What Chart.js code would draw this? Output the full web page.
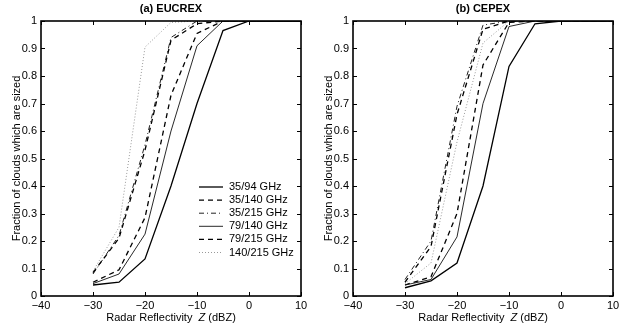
<html>
    <head>
        <meta charset="UTF-8">
        <script src="https://cdn.jsdelivr.net/npm/chart.js"></script>
        <title>Fraction of clouds sized</title>
        <style>
            body { margin: 0; background: #fff; }
            .panel { position: absolute; top: 0; }
        </style>
    </head>
    <body>
        <div class="panel" style="left: 0px"><canvas id="eucrex" width="311" height="329"></canvas></div>
        <div class="panel" style="left: 312px"><canvas id="cepex" width="311" height="329"></canvas></div>

        <script>
            // radar reflectivity Z (dBZ)
            const zValues = [-30, -25, -20, -15, -10, -5, 0, 5, 10];
            const xTicks = [-40, -30, -20, -10, 0, 10];
            const seriesNames = ['35/94 GHz', '35/140 GHz', '35/215 GHz', '79/140 GHz', '79/215 GHz', '140/215 GHz'];

            // (a) EUCREX
            const eucrex_35_94   = [0.04, 0.05, 0.135, 0.40, 0.70, 0.965, 1, 1, 1];
            const eucrex_35_140  = [0.085, 0.21, 0.53, 0.93, 0.99, 1, 1, 1, 1];
            const eucrex_35_215  = [0.08, 0.22, 0.55, 0.94, 1, 1, 1, 1, 1];
            const eucrex_79_140  = [0.045, 0.08, 0.225, 0.60, 0.91, 1, 1, 1, 1];
            const eucrex_79_215  = [0.05, 0.095, 0.285, 0.73, 0.955, 1, 1, 1, 1];
            const eucrex_140_215 = [0.09, 0.25, 0.905, 0.995, 1, 1, 1, 1, 1];

            // (b) CEPEX
            const cepex_35_94   = [0.03, 0.055, 0.12, 0.40, 0.835, 0.99, 1, 1, 1];
            const cepex_35_140  = [0.05, 0.18, 0.66, 0.97, 1, 1, 1, 1, 1];
            const cepex_35_215  = [0.06, 0.20, 0.69, 0.985, 1, 1, 1, 1, 1];
            const cepex_79_140  = [0.04, 0.06, 0.215, 0.70, 0.98, 1, 1, 1, 1];
            const cepex_79_215  = [0.04, 0.07, 0.30, 0.84, 0.995, 1, 1, 1, 1];
            const cepex_140_215 = [0.045, 0.12, 0.56, 0.92, 1, 1, 1, 1, 1];

            const FONT = "'Liberation Sans', Arial, Helvetica, sans-serif";

            // line styles, same order as seriesNames
            const styles = [
                { color: '#000', width: 1.3, dash: [] },
                { color: '#000', width: 1.3, dash: [5, 4] },
                { color: '#222', width: 1.0, dash: [5, 3, 1, 3] },
                { color: '#111', width: 0.9, dash: [] },
                { color: '#000', width: 1.3, dash: [5, 4] },
                { color: '#999', width: 1.0, dash: [1, 2] }
            ];

            function makeDatasets(series) {
                return series.map((vals, i) => ({
                    label: seriesNames[i],
                    data: zValues.map((z, j) => ({ x: z, y: vals[j] })),
                    borderColor: styles[i].color,
                    borderWidth: styles[i].width,
                    borderDash: styles[i].dash,
                    pointRadius: 0,
                    fill: false,
                    tension: 0
                }));
            }

            function line(ctx, x1, y1, x2, y2) {
                ctx.beginPath();
                ctx.moveTo(x1, y1);
                ctx.lineTo(x2, y2);
                ctx.stroke();
            }

            // MATLAB style box, inward ticks, titles and legend
            const framePlugin = {
                id: 'frame',
                afterDraw(chart, args, opts) {
                    const { ctx, chartArea: a, scales: { x, y } } = chart;
                    ctx.save();
                    ctx.strokeStyle = '#000';
                    ctx.setLineDash([]);
                    ctx.lineWidth = 1;
                    x.ticks.forEach(t => {
                        const px = Math.round(x.getPixelForValue(t.value)) + 0.5;
                        line(ctx, px, a.bottom, px, a.bottom - 4);
                        line(ctx, px, a.top, px, a.top + 4);
                    });
                    y.ticks.forEach(t => {
                        const py = Math.round(y.getPixelForValue(t.value)) + 0.5;
                        line(ctx, a.left, py, a.left + 4, py);
                        line(ctx, a.right, py, a.right - 4, py);
                    });
                    ctx.lineWidth = 1.6;
                    ctx.strokeRect(a.left, a.top, a.right - a.left, a.bottom - a.top);

                    const cx = (a.left + a.right) / 2;
                    ctx.fillStyle = '#000';
                    ctx.textBaseline = 'middle';
                    ctx.textAlign = 'center';
                    ctx.font = 'bold 11px ' + FONT;
                    ctx.fillText(opts.title, cx, 9);

                    // x axis title with italic Z
                    const p1 = 'Radar Reflectivity  ', p2 = 'Z', p3 = ' (dBZ)';
                    ctx.font = '11px ' + FONT;
                    const w1 = ctx.measureText(p1).width, w3 = ctx.measureText(p3).width;
                    ctx.font = 'italic 11px ' + FONT;
                    const w2 = ctx.measureText(p2).width;
                    let tx = cx - (w1 + w2 + w3) / 2;
                    ctx.textAlign = 'left';
                    ctx.font = '11px ' + FONT;
                    ctx.fillText(p1, tx, 318);
                    ctx.font = 'italic 11px ' + FONT;
                    ctx.fillText(p2, tx + w1, 318);
                    ctx.font = '11px ' + FONT;
                    ctx.fillText(p3, tx + w1 + w2, 318);

                    if (opts.legend) {
                        const lx = a.left + 158, ly = 187, rowH = 13.1;
                        chart.data.datasets.forEach((ds, i) => {
                            const yy = ly + i * rowH;
                            ctx.strokeStyle = ds.borderColor;
                            ctx.lineWidth = ds.borderWidth;
                            ctx.setLineDash(ds.borderDash);
                            line(ctx, lx, yy, lx + 24, yy);
                            ctx.setLineDash([]);
                            ctx.fillStyle = '#000';
                            ctx.font = '11px ' + FONT;
                            ctx.fillText(ds.label, lx + 30, yy);
                        });
                    }
                    ctx.restore();
                }
            };

            function makeChart(id, series, title, showLegend) {
                return new Chart(document.getElementById(id), {
                    type: 'line',
                    data: { datasets: makeDatasets(series) },
                    plugins: [framePlugin],
                    options: {
                        responsive: false,
                        animation: false,
                        devicePixelRatio: 1,
                        layout: { padding: { top: 21, right: 10, left: 0, bottom: 0 } },
                        plugins: {
                            legend: { display: false },
                            tooltip: { enabled: false },
                            frame: { title: title, legend: showLegend }
                        },
                        scales: {
                            x: {
                                type: 'linear',
                                min: -40,
                                max: 10,
                                afterBuildTicks: s => { s.ticks = xTicks.map(v => ({ value: v })); },
                                afterFit: s => { s.height = 33; },
                                ticks: {
                                    color: '#000',
                                    padding: 3,
                                    maxRotation: 0,
                                    font: { family: FONT, size: 11 },
                                    callback: v => String(v).replace('-', '\u2212')
                                },
                                grid: { drawOnChartArea: false, drawTicks: false },
                                border: { display: false }
                            },
                            y: {
                                type: 'linear',
                                min: 0,
                                max: 1,
                                afterFit: s => { s.width = 41; },
                                ticks: {
                                    stepSize: 0.1,
                                    color: '#000',
                                    padding: 4,
                                    font: { family: FONT, size: 11 },
                                    callback: v => String(Number(v.toFixed(1)))
                                },
                                title: {
                                    display: true,
                                    text: 'Fraction of clouds which are sized',
                                    color: '#000',
                                    font: { family: FONT, size: 11 },
                                    padding: { top: 10, bottom: 0 }
                                },
                                grid: { drawOnChartArea: false, drawTicks: false },
                                border: { display: false }
                            }
                        }
                    }
                });
            }

            makeChart('eucrex',
                [eucrex_35_94, eucrex_35_140, eucrex_35_215, eucrex_79_140, eucrex_79_215, eucrex_140_215],
                '(a) EUCREX', true);
            makeChart('cepex',
                [cepex_35_94, cepex_35_140, cepex_35_215, cepex_79_140, cepex_79_215, cepex_140_215],
                '(b) CEPEX', false);
        </script>
    </body>
</html>
